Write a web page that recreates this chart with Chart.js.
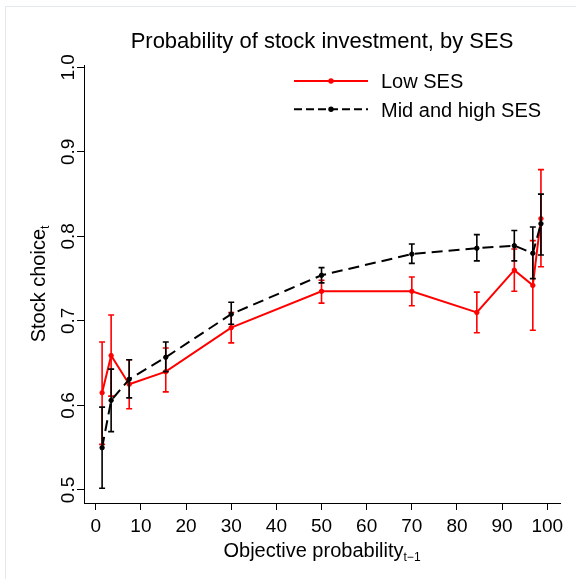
<!DOCTYPE html>
<html>
<head>
<meta charset="utf-8">
<script src="https://cdn.jsdelivr.net/npm/chart.js@4.4.1/dist/chart.umd.min.js"></script>
<style>
  html, body { margin: 0; padding: 0; background: #fff; }
  #wrap { width: 576px; height: 579px; position: relative; }
</style>
</head>
<body>
<div id="wrap"><canvas id="chart" width="576" height="579"></canvas></div>
<script>
// Objective probability bins (x) shared by both groups
const probBins = [1.4, 3.4, 7.4, 15.5, 30, 50, 70, 84.4, 92.7, 96.8, 98.6];

// Low SES: mean stock choice and 95% CI bounds
const lowMean  = [0.615, 0.659, 0.625, 0.640, 0.692, 0.735, 0.735, 0.710, 0.760, 0.742, 0.821];
const lowLower = [0.554, 0.611, 0.596, 0.616, 0.674, 0.721, 0.718, 0.686, 0.735, 0.689, 0.764];
const lowUpper = [0.675, 0.707, 0.654, 0.668, 0.710, 0.748, 0.752, 0.734, 0.785, 0.795, 0.879];

// Mid and high SES: mean stock choice and 95% CI bounds
const midMean  = [0.550, 0.606, 0.631, 0.657, 0.708, 0.754, 0.779, 0.786, 0.789, 0.780, 0.815];
const midLower = [0.502, 0.569, 0.609, 0.640, 0.696, 0.745, 0.768, 0.771, 0.771, 0.750, 0.778];
const midUpper = [0.598, 0.643, 0.654, 0.675, 0.722, 0.763, 0.791, 0.802, 0.807, 0.811, 0.850];

const seriesNames = ['Low SES', 'Mid and high SES'];
const xTicks = [0, 10, 20, 30, 40, 50, 60, 70, 80, 90, 100];
const yTicks = [0.5, 0.6, 0.7, 0.8, 0.9, 1.0];

const titleText = 'Probability of stock investment, by SES';
const xTitle = { main: 'Objective probability', sub: 't\u22121' };
const yTitle = { main: 'Stock choice', sub: 't' };

const FONT = '"Liberation Sans", Arial, Helvetica, sans-serif';

const toPoints = (ys) => probBins.map((x, i) => ({ x: x, y: ys[i] }));

// Light outer frame of the graph region
const framePlugin = {
  id: 'frame',
  beforeDraw(chart) {
    const { ctx } = chart;
    ctx.save();
    ctx.strokeStyle = '#e3eaee';
    ctx.lineWidth = 1;
    ctx.strokeRect(5.5, 6.5, 700, 700);
    ctx.restore();
  }
};

// Confidence interval caps drawn right after each series
const errorBarPlugin = {
  id: 'errorBars',
  afterDatasetDraw(chart, args, opts) {
    const ds = chart.data.datasets[args.index];
    if (!ds.errLow) return;
    const { ctx, scales: { x, y } } = chart;
    ctx.save();
    ctx.strokeStyle = ds.borderColor;
    ctx.lineWidth = opts.lineWidth;
    ctx.setLineDash([]);
    ds.data.forEach((p, i) => {
      const px = x.getPixelForValue(p.x);
      const yl = y.getPixelForValue(ds.errLow[i]);
      const yh = y.getPixelForValue(ds.errHigh[i]);
      ctx.beginPath();
      ctx.moveTo(px, yl); ctx.lineTo(px, yh);
      ctx.moveTo(px - opts.cap, yl); ctx.lineTo(px + opts.cap, yl);
      ctx.moveTo(px - opts.cap, yh); ctx.lineTo(px + opts.cap, yh);
      ctx.stroke();
    });
    ctx.restore();
  }
};

// Text with a trailing subscript, centred on (0,0) along the baseline
function drawSubText(ctx, main, sub, size, subSize, subDrop) {
  ctx.font = size + 'px ' + FONT;
  const wMain = ctx.measureText(main).width;
  ctx.font = subSize + 'px ' + FONT;
  const wSub = ctx.measureText(sub).width;
  const start = -(wMain + wSub) / 2;
  ctx.textAlign = 'left';
  ctx.textBaseline = 'alphabetic';
  ctx.font = size + 'px ' + FONT;
  ctx.fillText(main, start, 0);
  ctx.font = subSize + 'px ' + FONT;
  ctx.fillText(sub, start + wMain, subDrop);
}

// Title, axis titles and the in-plot key
const annotatePlugin = {
  id: 'annotate',
  afterDraw(chart, args, opts) {
    const { ctx, chartArea: a } = chart;
    const cx = (a.left + a.right) / 2;
    const cy = (a.top + a.bottom) / 2;
    ctx.save();
    ctx.fillStyle = '#000';

    // chart title
    ctx.font = opts.titleSize + 'px ' + FONT;
    ctx.textAlign = 'center';
    ctx.textBaseline = 'alphabetic';
    ctx.fillText(titleText, cx, opts.titleBaseline);

    // x axis title
    ctx.save();
    ctx.translate(cx, opts.xTitleBaseline);
    drawSubText(ctx, xTitle.main, xTitle.sub, opts.axisTitleSize, opts.subSize, opts.subDrop);
    ctx.restore();

    // y axis title
    ctx.save();
    ctx.translate(opts.yTitleBaseline, cy);
    ctx.rotate(-Math.PI / 2);
    drawSubText(ctx, yTitle.main, yTitle.sub, opts.axisTitleSize, opts.subSize, opts.subDrop);
    ctx.restore();

    // key
    chart.data.datasets.forEach((ds, i) => {
      const ly = opts.keyRows[i];
      ctx.save();
      ctx.strokeStyle = ds.borderColor;
      ctx.lineWidth = ds.borderWidth;
      ctx.setLineDash(ds.keyDash || []);
      ctx.beginPath();
      ctx.moveTo(opts.keyX0, ly);
      ctx.lineTo(opts.keyX1, ly);
      ctx.stroke();
      ctx.setLineDash([]);
      ctx.fillStyle = ds.pointBackgroundColor;
      ctx.beginPath();
      ctx.arc((opts.keyX0 + opts.keyX1) / 2, ly, ds.pointRadius + 0.5, 0, Math.PI * 2);
      ctx.fill();
      ctx.restore();
      ctx.font = opts.keySize + 'px ' + FONT;
      ctx.textAlign = 'left';
      ctx.textBaseline = 'alphabetic';
      ctx.fillStyle = '#000';
      ctx.fillText(ds.label, opts.keyTextX, ly + opts.keyTextDrop);
    });
    ctx.restore();
  }
};

const axisCommon = {
  grid: { drawOnChartArea: false, drawTicks: true, tickLength: 7, tickWidth: 1, tickColor: '#000' },
  border: { display: true, color: '#000', width: 1 }
};

new Chart(document.getElementById('chart'), {
  type: 'line',
  data: {
    datasets: [
      {
        label: seriesNames[0],
        data: toPoints(lowMean),
        errLow: lowLower,
        errHigh: lowUpper,
        borderColor: '#ff0000',
        backgroundColor: '#ff0000',
        pointBackgroundColor: '#ff0000',
        pointBorderColor: '#ff0000',
        borderWidth: 2,
        pointRadius: 2.2,
        pointBorderWidth: 1,
        tension: 0,
        fill: false,
        order: 2
      },
      {
        label: seriesNames[1],
        data: toPoints(midMean),
        errLow: midLower,
        errHigh: midUpper,
        borderColor: '#000000',
        backgroundColor: '#000000',
        pointBackgroundColor: '#000000',
        pointBorderColor: '#000000',
        borderWidth: 2,
        borderDash: [11, 6],
        keyDash: [8, 4],
        pointRadius: 2.2,
        pointBorderWidth: 1,
        tension: 0,
        fill: false,
        order: 1
      }
    ]
  },
  options: {
    responsive: false,
    animation: false,
    devicePixelRatio: 1,
    layout: { padding: { top: 65, right: 16, left: 0, bottom: 0 } },
    scales: {
      x: {
        type: 'linear',
        min: -2.61,
        max: 102.82,
        afterBuildTicks(scale) { scale.ticks = xTicks.map(v => ({ value: v })); },
        afterFit(scale) { scale.height = 76; },
        ticks: {
          color: '#000',
          padding: 5,
          maxRotation: 0,
          font: { family: FONT, size: 19 },
          callback: (v) => String(v)
        },
        ...axisCommon
      },
      y: {
        type: 'linear',
        min: 0.4846,
        max: 1.0027,
        afterBuildTicks(scale) { scale.ticks = yTicks.map(v => ({ value: v })); },
        afterFit(scale) { scale.width = 84; },
        ticks: {
          color: '#000',
          minRotation: 90,
          maxRotation: 90,
          crossAlign: 'center',
          padding: -5,
          font: { family: FONT, size: 19 },
          callback: (v) => Number(v).toFixed(1)
        },
        ...axisCommon
      }
    },
    plugins: {
      legend: { display: false },
      title: { display: false },
      tooltip: { enabled: false },
      errorBars: { lineWidth: 1.6, cap: 3 },
      annotate: {
        titleSize: 22,
        titleBaseline: 48,
        axisTitleSize: 20,
        subSize: 12,
        subDrop: 4,
        xTitleBaseline: 557,
        yTitleBaseline: 44.5,
        keyRows: [81, 109.3],
        keyX0: 294,
        keyX1: 368,
        keyTextX: 381,
        keySize: 20,
        keyTextDrop: 7.2
      }
    }
  },
  plugins: [framePlugin, errorBarPlugin, annotatePlugin]
});
</script>
</body>
</html>
